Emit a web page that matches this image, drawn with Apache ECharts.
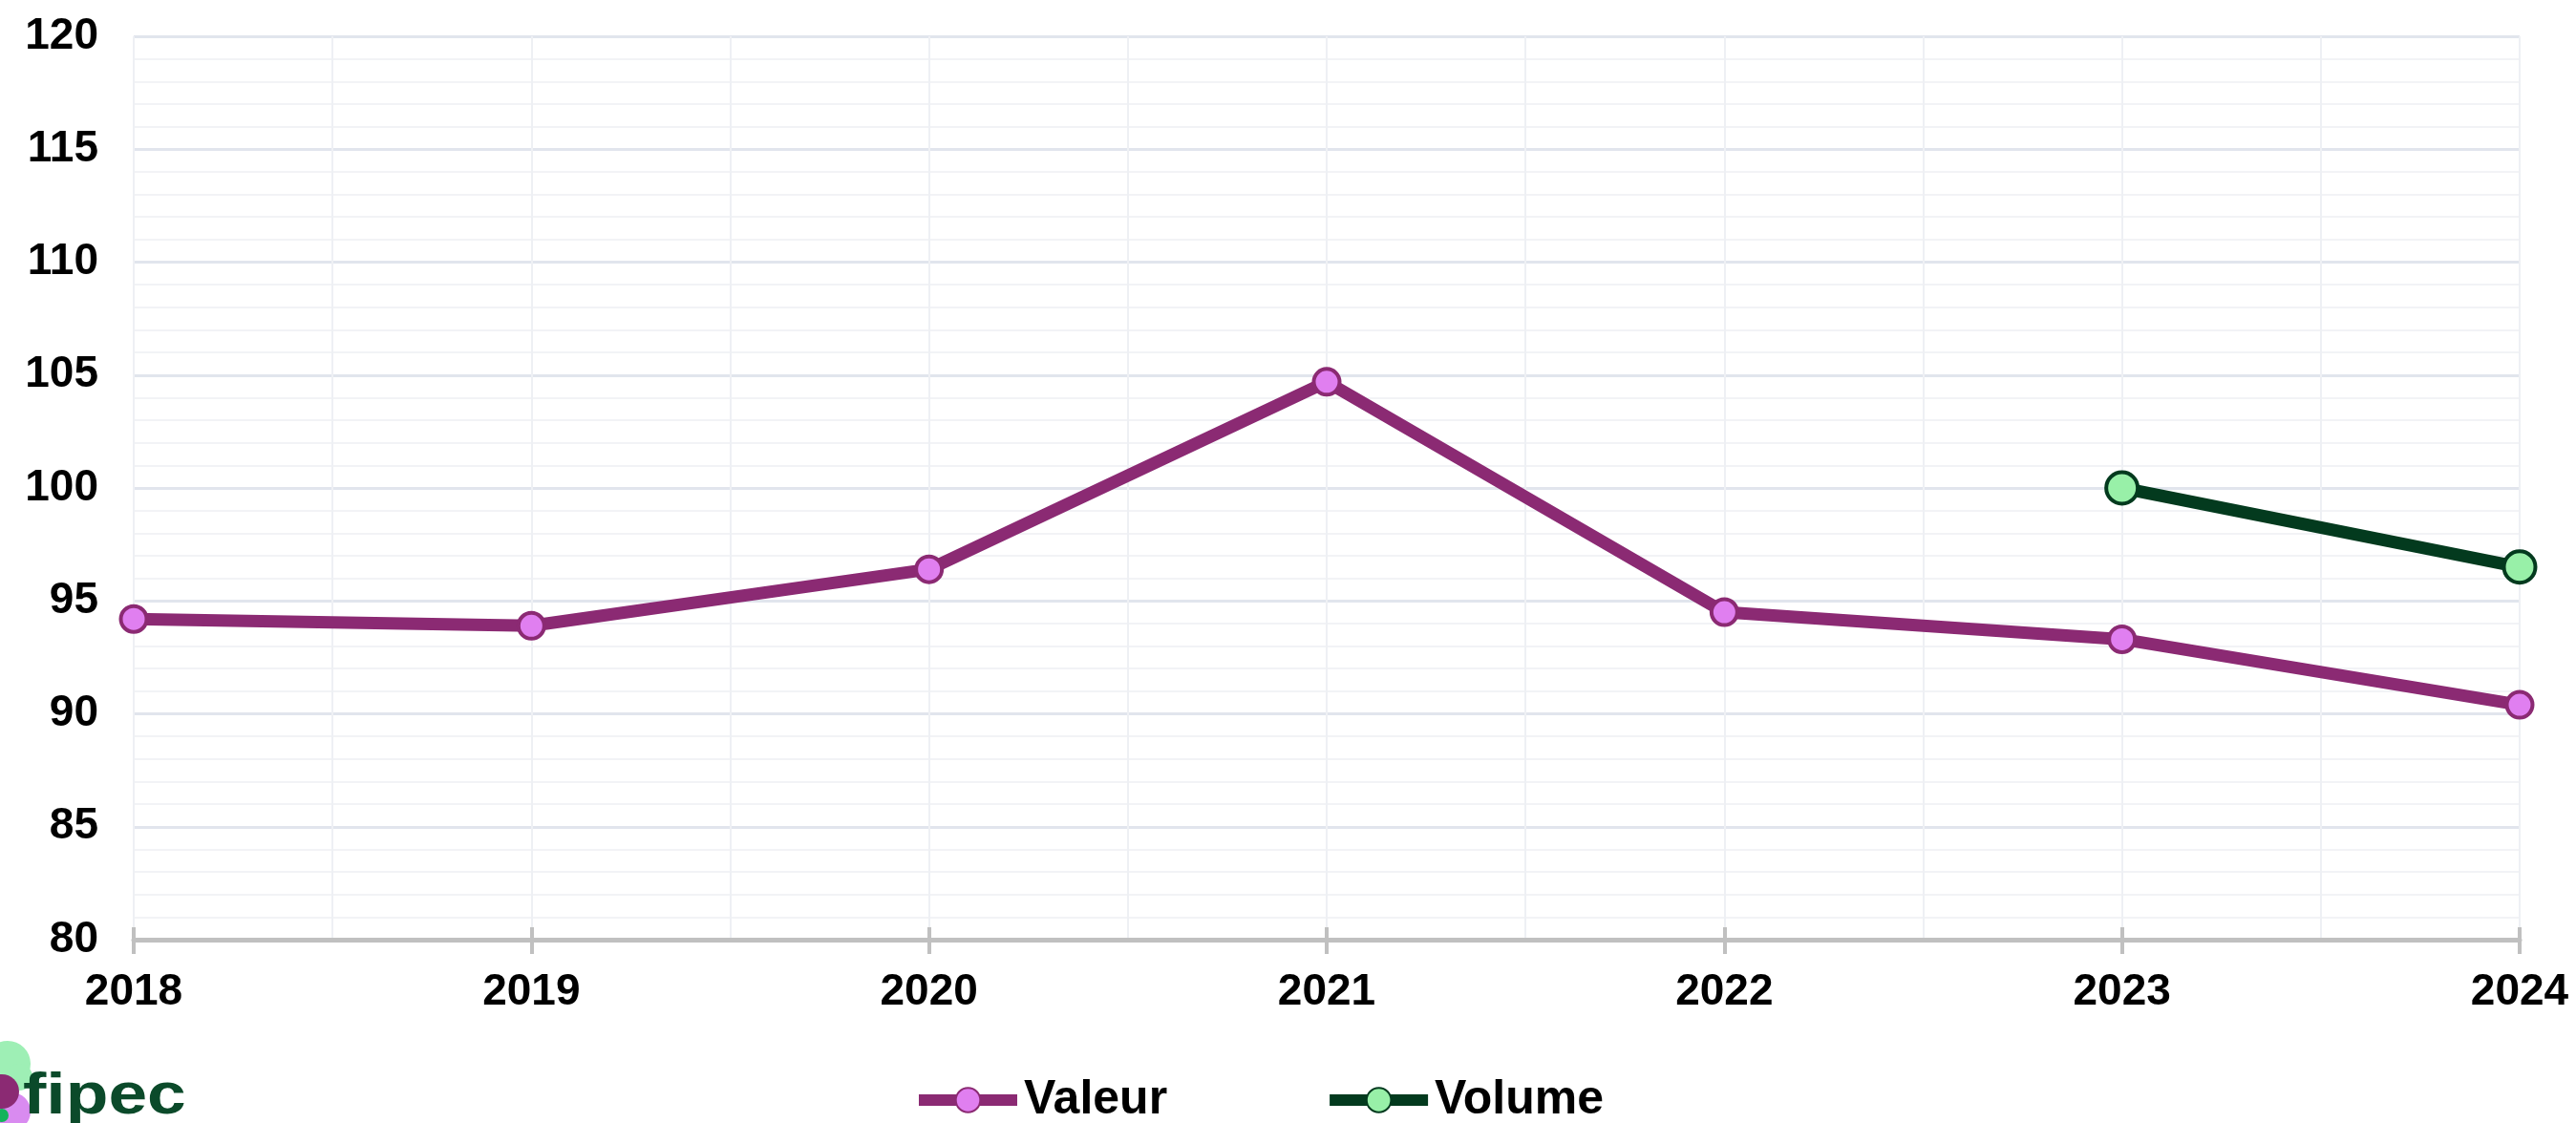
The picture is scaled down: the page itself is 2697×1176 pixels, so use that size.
<!DOCTYPE html>
<html>
<head>
<meta charset="utf-8">
<style>
  html, body { margin: 0; padding: 0; background: #ffffff; }
  #chart { width: 2697px; height: 1176px; }
</style>
<script src="https://cdn.jsdelivr.net/npm/echarts@6/dist/echarts.min.js"></script>
</head>
<body>
<div id="chart"></div>
<script>
// Years on the horizontal axis
const years = [2018, 2019, 2020, 2021, 2022, 2023, 2024];
// Index values (base 100)
const valeur = [94.2, 93.9, 96.4, 104.7, 94.5, 93.3, 90.4];
const volume = [null, null, null, null, null, 100.0, 96.5];
// Vertical axis range
const yMin = 80, yMax = 120, yStep = 5;

const toPairs = vals => years.map((y, i) => [y, vals[i]]).filter(p => p[1] !== null);

const chart = echarts.init(document.getElementById('chart'), null, { renderer: 'canvas' });

const font = '"Liberation Sans", Arial, sans-serif';

chart.setOption({
  animation: false,
  backgroundColor: '#ffffff',
  grid: { left: 140, right: 59, top: 38, bottom: 192, containLabel: false },
  legend: {
    data: ['Valeur', 'Volume'],
    left: 951,
    top: 1122,
    itemWidth: 103,
    itemHeight: 32,
    itemGap: 164,
    lineStyle: { width: 12 },
    textStyle: { fontFamily: font, fontSize: 50, fontWeight: 'bold', color: '#000', padding: [0, 0, 0, 2] }
  },
  xAxis: [{
    type: 'value',
    min: 2018, max: 2024, interval: 1,
    axisLine: { show: true, lineStyle: { color: '#c0c0c0', width: 5 } },
    axisTick: { show: true, length: 15, lineStyle: { color: '#c0c0c0', width: 4 } },
    axisLabel: { fontFamily: font, fontSize: 46, fontWeight: 'bold', color: '#000', margin: 32,
                 formatter: v => String(v) },
    splitLine: { show: true, lineStyle: { color: '#eef0f4', width: 2 } },
    minorTick: { show: false, splitNumber: 2 },
    minorSplitLine: { show: true, lineStyle: { color: '#eef0f4', width: 2 } }
  }, {
    type: 'value',
    position: 'bottom',
    min: 2018, max: 2024, interval: 1,
    axisLine: { show: false },
    axisTick: { show: true, inside: true, length: 13, lineStyle: { color: '#c0c0c0', width: 4 } },
    axisLabel: { show: false },
    splitLine: { show: false }
  }],
  yAxis: {
    type: 'value',
    min: yMin, max: yMax, interval: yStep,
    axisLine: { show: false },
    axisTick: { show: false },
    axisLabel: { fontFamily: font, fontSize: 46, fontWeight: 'bold', color: '#000', margin: 37 },
    splitLine: { show: true, lineStyle: { color: '#e1e5ed', width: 3 } },
    minorTick: { show: false, splitNumber: 5 },
    minorSplitLine: { show: true, lineStyle: { color: '#f2f3f6', width: 2 } }
  },
  series: [{
    name: 'Valeur',
    type: 'line',
    data: toPairs(valeur),
    symbol: 'circle',
    symbolSize: 27,
    lineStyle: { color: '#8b2a73', width: 13 },
    itemStyle: { color: '#e07ff0', borderColor: '#8b2a73', borderWidth: 4 },
    z: 3
  }, {
    name: 'Volume',
    type: 'line',
    data: toPairs(volume),
    symbol: 'circle',
    symbolSize: 33,
    lineStyle: { color: '#033a1e', width: 13 },
    itemStyle: { color: '#98f0a8', borderColor: '#033a1e', borderWidth: 4 },
    z: 4
  }],
  graphic: [
    // fipec logo, bottom left
    { type: 'circle', shape: { cx: 8, cy: 1114, r: 24 }, style: { fill: '#9eefb5' }, z: 10 },
    { type: 'circle', shape: { cx: 20, cy: 1128, r: 14 }, style: { fill: '#9eefb5' }, z: 10 },
    { type: 'circle', shape: { cx: 12, cy: 1164, r: 20 }, style: { fill: '#d98bf0' }, z: 11 },
    { type: 'circle', shape: { cx: 2, cy: 1143, r: 18 }, style: { fill: '#8b2a73' }, z: 12 },
    { type: 'circle', shape: { cx: 2, cy: 1168, r: 7 }, style: { fill: '#12b35a' }, z: 13 },
    { type: 'text', x: 24, y: 1118, scaleX: 1.18,
      style: { text: 'fipec', fontFamily: font, fontSize: 62, fontWeight: 'bold', fill: '#0b4a2a' }, z: 14 }
  ]
});
</script>
</body>
</html>
